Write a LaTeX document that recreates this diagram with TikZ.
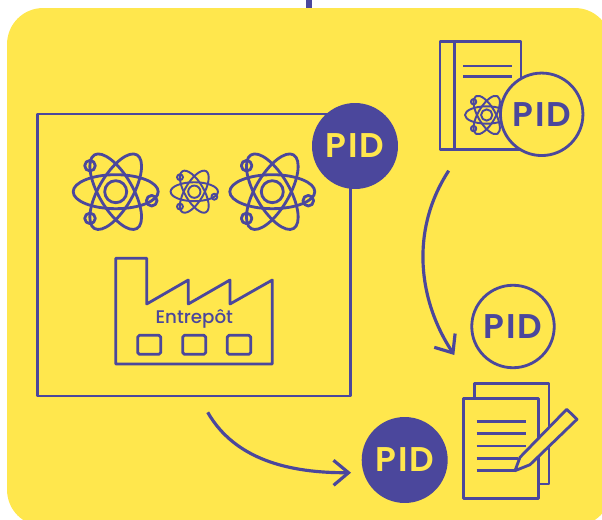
\documentclass[tikz,border=0pt]{standalone}
\usepackage{fontspec}
\setmainfont{Poppins}
\newfontfamily\pidfont[LetterSpace=5]{Poppins SemiBold}
\newfontfamily\labelfont{Poppins Medium}
\usetikzlibrary{arrows.meta}
\definecolor{panelyellow}{RGB}{255,231,77}
\definecolor{pidblue}{RGB}{75,71,156}
\tikzset{
  ink/.style={draw=pidblue, line width=1.6pt, line join=round},
  pidfull/.style={circle, fill=pidblue, text=panelyellow, minimum size=1.72cm, inner sep=0pt, font=\fontsize{19.5}{19.5}\pidfont},
  pidring/.style={circle, draw=pidblue, line width=1.6pt, fill=panelyellow, text=pidblue, minimum size=1.65cm, inner sep=0pt, font=\fontsize{19.5}{19.5}\pidfont},
  flow/.style={draw=pidblue, line width=1.8pt, -{Straight Barb[length=3mm, width=5mm]}},
  atom/.pic={
    \draw[pic actions] (0,0) circle (11);
    \draw[pic actions] (0,0) ellipse (42.5 and 17);
    \draw[pic actions, rotate=60] (0,0) ellipse (42.5 and 17);
    \draw[pic actions, rotate=-60] (0,0) ellipse (42.5 and 17);
    \draw[pic actions] (-25.7,-26) circle (5.3);
    \draw[pic actions] (-25.7,26.7) circle (5.3);
    \draw[pic actions] (36,9) circle (5.3);
  }
}
\begin{document}
\begin{tikzpicture}[x=0.02cm, y=-0.02cm]
    \path[use as bounding box, clip] (0,0) rectangle (602,520);
    \node[fill=panelyellow, rounded corners=0.72cm, minimum width=12.08cm, minimum height=10.36cm, inner sep=0pt] (panel) at (309,267) {};
    \coordinate (linktop) at (309,0);
    \draw[draw=pidblue, line width=3.4pt] (linktop) -- (linktop |- panel.north);

    % warehouse frame
    \node[ink, minimum width=6.26cm, minimum height=5.64cm, inner sep=0pt] (frame) at (194.3,255) {};
    \node[pidfull] (pidframe) at (355,146) {PID};
    \pic[ink] (atomleft) at (115.7,191.7) {atom};
    \pic[ink, line width=1.1pt, scale=0.557] (atommid) at (194.3,191.7) {atom};
    \pic[ink] (atomright) at (272.3,191.7) {atom};
    \draw[ink] (115.7,258.3) -- (146.7,258.3) -- (146.7,304) -- (188.3,280) -- (188.3,304) -- (230,280) -- (230,304) -- (272.3,280) -- (272.3,364) -- (115.7,364) -- cycle;
    \node[text=pidblue, font=\fontsize{10.4}{10.4}\labelfont, inner sep=0pt] (entrepot) at (194.3,319) {Entrepôt};
    \draw[ink, rounded corners=1pt] (137.7,335.3) rectangle (160.7,354.3);
    \draw[ink, rounded corners=1pt] (182.7,335.3) rectangle (205.7,354.3);
    \draw[ink, rounded corners=1pt] (227.3,335.3) rectangle (250.7,354.3);

    % report top right
    \node[ink, minimum width=1.62cm, minimum height=2.15cm, inner sep=0pt] (report) at (480.5,95.5) {};
    \draw[ink] (454.3,41.7) -- (454.3,149.3);
    \draw[ink] (463.3,66) -- (511.7,66);
    \draw[ink] (463.3,76.7) -- (511.7,76.7);
    \pic[ink, line width=1.1pt, scale=0.51] (atomreport) at (486.7,115) {atom};
    \node[pidring] (pidreport) at (541.7,114.3) {PID};

    \node[pidring] (pidright) at (513,326.5) {PID};
    \node[pidfull] (pidbottom) at (404.7,460) {PID};

    % pages and pencil
    \node[ink, fill=panelyellow, minimum width=1.494cm, minimum height=2.014cm, inner sep=0pt] (pageback) at (511.6,433.6) {};
    \node[ink, fill=panelyellow, minimum width=1.494cm, minimum height=2.008cm, inner sep=0pt] (pagefront) at (501,448.5) {};
    \draw[ink] (476.7,421.3) -- (525.7,421.3);
    \draw[ink] (476.7,433.7) -- (525.7,433.7);
    \draw[ink] (476.7,446) -- (525.7,446);
    \draw[ink] (476.7,458.3) -- (518.3,458.3);
    \draw[ink] (476.7,470.7) -- (515,470.7);
    \draw[ink, fill=panelyellow] (515,470.7) -- (520,457.3) -- (566.7,409.3) -- (577,419.3) -- (530,464.7) -- cycle;

    % arrows
    \coordinate (docstart) at (448.7,170.7);
    \coordinate (docend) at (454.3,355);
    \coordinate (framestart) at (207.7,412.3);
    \coordinate (frameend) at (351,472.7);
    \draw[flow] (docstart) .. controls (410,230) and (418,300) .. (docend);
    \draw[flow] (framestart) .. controls (235,460) and (290,473) .. (frameend);
\end{tikzpicture}
\end{document}
